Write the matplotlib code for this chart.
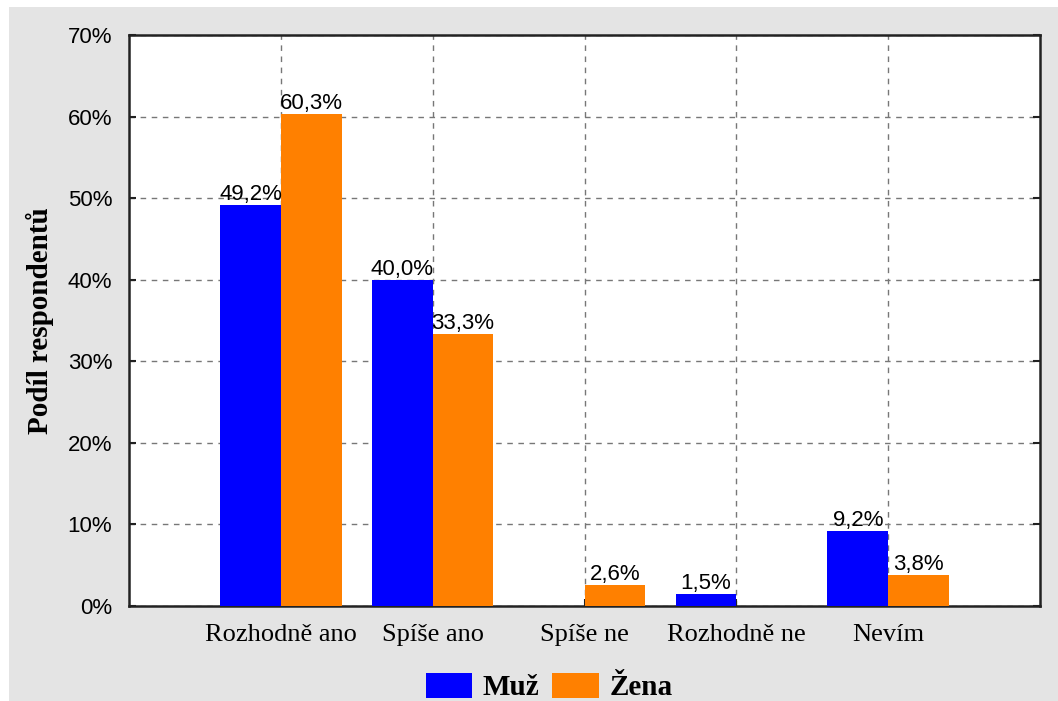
import numpy as np
import matplotlib
matplotlib.use('Agg')
import matplotlib.pyplot as plt
from matplotlib.patches import Rectangle

# data
categories = ['Rozhodně ano', 'Spíše ano', 'Spíše ne', 'Rozhodně ne', 'Nevím']
muz = [49.2, 40.0, 0.0, 1.5, 9.2]
zena = [60.3, 33.3, 2.6, 0.0, 3.8]
series_names = ['Muž', 'Žena']
yticks = [0, 10, 20, 30, 40, 50, 60, 70]

blue = '#0000ff'
orange = '#ff8000'
bg = '#e4e4e4'

fig = plt.figure(figsize=(10.58, 7.01), dpi=100)
fig.patch.set_facecolor('white')
# grey panel (white strip on top and left like the original)
fig.patches.append(Rectangle((9/1058, 0), 1, 1 - 7/701, transform=fig.transFigure,
                             facecolor=bg, edgecolor='none', zorder=-10))

ax = fig.add_axes([129/1058, 1 - 606/701, (1040 - 129)/1058, (606 - 35)/701])
ax.set_facecolor('white')

x = np.arange(len(categories))
w = 0.4

b1 = ax.bar(x - w/2, muz, w, color=blue, label=series_names[0], zorder=3)
b2 = ax.bar(x + w/2, zena, w, color=orange, label=series_names[1], zorder=3)

# value labels
for xi, v in zip(x - w/2, muz):
    if v > 0:
        ax.text(xi, v, f'{v:.1f}%'.replace('.', ','), ha='center', va='bottom',
                fontsize=16, family='Liberation Sans', zorder=4)
for xi, v in zip(x + w/2, zena):
    if v > 0:
        ax.text(xi, v, f'{v:.1f}%'.replace('.', ','), ha='center', va='bottom',
                fontsize=16, family='Liberation Sans', zorder=4)

ax.set_xlim(-1, 5)
ax.set_ylim(0, 70)
ax.set_yticks(yticks)
ax.set_yticklabels([f'{t}%' for t in yticks], family='Liberation Sans', fontsize=16)
ax.set_xticks(x)
ax.set_xticklabels(categories, family='Liberation Serif', fontsize=19)

ax.tick_params(axis='both', direction='in', length=5, width=1.5, color='#222222')
ax.tick_params(axis='y', right=True, pad=12)
ax.tick_params(axis='x', pad=13)

ax.grid(True, linestyle=(0, (4, 4)), color='#777777', linewidth=1, zorder=1)

for s in ax.spines.values():
    s.set_linewidth(1.8)
    s.set_color('#222222')

ax.set_ylabel('Podíl respondentů', family='Liberation Serif', fontweight='bold',
              fontsize=21, labelpad=10)

fig.legend(handles=[b1, b2], labels=series_names, loc='lower center',
           bbox_to_anchor=(549/1058, -15/701), ncol=2, frameon=False, borderpad=0,
           prop={'family': 'Liberation Serif', 'weight': 'bold', 'size': 21},
           handlelength=1.6, handleheight=0.95, handletextpad=0.35, columnspacing=0.45)

fig.savefig('out.png', dpi=100, facecolor=fig.get_facecolor())
